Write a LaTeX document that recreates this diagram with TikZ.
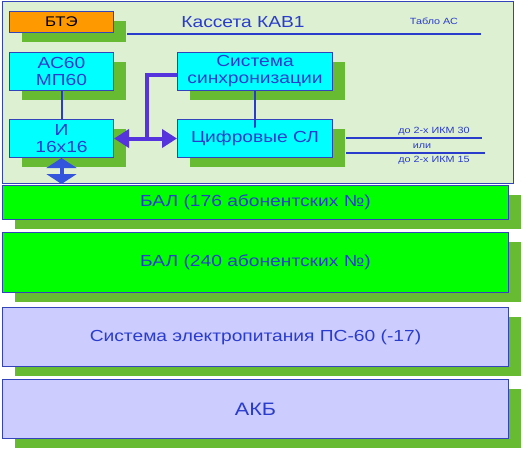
\documentclass[tikz,border=0pt]{standalone}
\usepackage{fontspec}
\setmainfont{Liberation Sans}[FakeStretch=1.2]
\usetikzlibrary{arrows.meta, shadows, calc}

\definecolor{kavfill}{HTML}{DDF0D2}
\definecolor{edgeblue}{HTML}{3344BB}
\definecolor{txtblue}{HTML}{2A3CCC}
\definecolor{shadegreen}{HTML}{66BB33}
\definecolor{btaeorange}{HTML}{FF9900}
\definecolor{balgreen}{HTML}{00FF00}
\definecolor{lavender}{HTML}{CCCCFF}
\definecolor{boxcyan}{HTML}{00FFFF}
\definecolor{linkviolet}{HTML}{5533DD}
\definecolor{busblue}{HTML}{3355DD}

\begin{document}
\begin{tikzpicture}[
  x=1pt, y=-1pt,
  box/.style={rectangle, draw=edgeblue, line width=1pt, anchor=north west, inner sep=0pt,
    text=txtblue, align=center, font=\fontsize{16}{17}\selectfont,
    drop shadow={shadow xshift=12pt, shadow yshift=-9pt, fill=shadegreen, opacity=1}},
  cyanbox/.style={box, fill=boxcyan, minimum width=155pt, minimum height=38pt},
  widebox/.style={box, minimum width=506pt, font=\fontsize{16}{18}\selectfont},
  note/.style={text=txtblue, font=\fontsize{9}{10}\selectfont, inner sep=0pt},
  wire/.style={draw=txtblue, line width=2pt},
  link/.style={draw=linkviolet, line width=4pt, {Triangle[width=18pt,length=15pt]}-{Triangle[width=18pt,length=15pt]}},
  bus/.style={draw=busblue, line width=4pt, {Triangle[width=30pt,length=10pt]}-{Triangle[width=30pt,length=10pt]}}
]
\useasboundingbox (0,0) rectangle (528,450);

% Cassette
\node[rectangle, draw=edgeblue, line width=1pt, fill=kavfill, anchor=north west,
  minimum width=511pt, minimum height=182pt, inner sep=0pt] (kav) at (2,1) {};
\node[text=txtblue, font=\fontsize{16}{18}\selectfont] (kavtitle) at (243,22) {Кассета КАВ1};
\node[note] (tablo) at (434,21) {Табло АС};
\coordinate (kavA) at (127,34);
\coordinate (kavB) at (481,34);
\draw[wire] (kavA) -- (kavB);

% Blocks of the cassette
\node[box, fill=btaeorange, text=black, font=\fontsize{14}{16}\selectfont,
  minimum width=104pt, minimum height=21pt] (btae) at (9,11) {БТЭ};
\node[cyanbox, minimum width=104pt] (acmp) at (9,52) {АС60\\МП60};
\node[cyanbox, minimum width=104pt] (ii) at (9,119) {И\\16х16};
\node[cyanbox] (sync) at (177,52) {Система\\синхронизации};
\node[cyanbox] (cifr) at (177,119) {Цифровые СЛ};

% Links
\draw[wire] (acmp.south) -- (ii.north);
\draw[wire, line cap=round] (sync.south) -- ([yshift=-8pt]sync.south |- cifr.north);
\draw[link] (ii.east) -- (cifr.west) coordinate[pos=0.53] (branch);
\draw[draw=linkviolet, line width=4pt] (branch) |- ([yshift=-3pt]sync.west);
\draw[bus] (ii.south) -- (ii.south |- 0,184);

% Trunk lines
\coordinate (ikmA) at (482,138);
\coordinate (ikmB) at (485,153);
\draw[wire] ([xshift=13pt]cifr.east |- ikmA) -- (ikmA);
\draw[wire] ([xshift=13pt]cifr.east |- ikmB) -- (ikmB);
\node[note] (ikm30) at (434,131) {до 2-х ИКМ 30};
\node[note] (ili) at (422,146) {или};
\node[note] (ikm15) at (434,160) {до 2-х ИКМ 15};

% Lower units
\node[widebox, fill=balgreen, minimum height=34pt] (bal1) at (2,185) {БАЛ (176 абонентских №)};
\node[widebox, fill=balgreen, minimum height=60pt] (bal2) at (2,232) {БАЛ (240 абонентских №)};
\node[widebox, fill=lavender, minimum height=59pt] (pwr) at (2,307) {Система электропитания ПС-60 (-17)};
\node[widebox, fill=lavender, minimum height=59pt, font=\fontsize{18}{20}\selectfont] (akb) at (2,379) {АКБ};

\end{tikzpicture}
\end{document}
